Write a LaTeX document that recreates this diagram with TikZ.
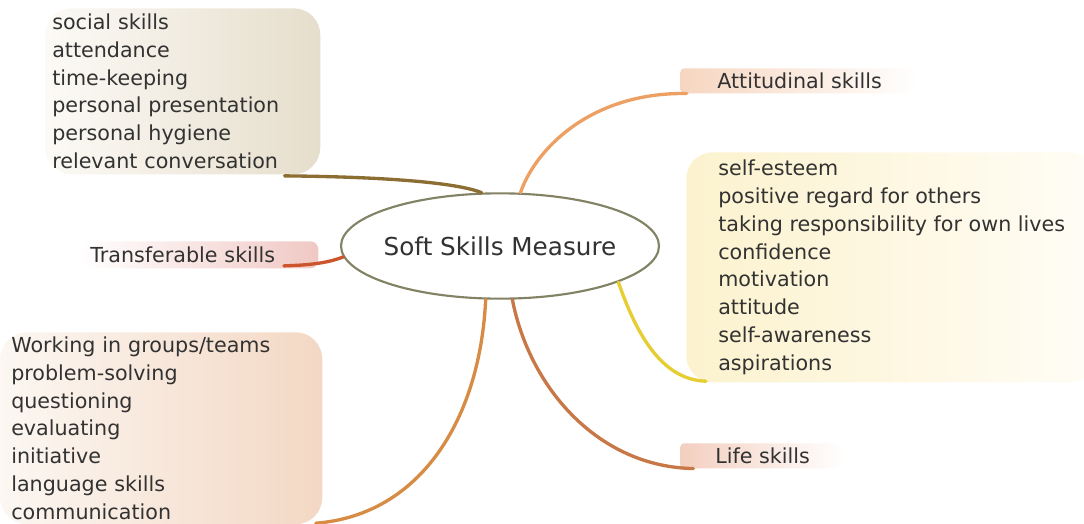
\documentclass[tikz,border=0pt]{standalone}
\usepackage{fontspec}
\setmainfont{DejaVu Sans}
\usetikzlibrary{shapes.geometric}
\definecolor{txt}{RGB}{50,50,50}
\definecolor{hubline}{RGB}{130,130,100}
\definecolor{socline}{RGB}{140,110,50}
\definecolor{transline}{RGB}{205,85,45}
\definecolor{attline}{RGB}{236,160,100}
\definecolor{selfline}{RGB}{230,205,50}
\definecolor{lifeline}{RGB}{200,120,70}
\definecolor{workline}{RGB}{215,140,70}
\tikzset{hubnode/.style={ellipse, draw=hubline, line width=1.6pt, fill=white, inner xsep=-4pt, inner ysep=0pt, minimum width=238.5pt, minimum height=79pt, text=txt, font=\fontsize{18.5}{22}\selectfont},
listbox/.style={anchor=north west, align=left, text=txt, font=\fontsize{15.5}{20.85}\selectfont, inner ysep=0pt},
branch/.style={line width=2.5pt, line cap=round},}

\begin{document}
\begin{tikzpicture}[x=0.75pt, y=-0.75pt]
\useasboundingbox (0,0) rectangle (1084,524);
\node [hubnode] (hub) at (500,246) {Soft Skills Measure};
\node [listbox, rounded corners=20pt, left color={rgb,255:red,252;green,250;blue,246}, right color={rgb,255:red,230;green,222;blue,204}, minimum height=124.5pt, text width=195.75pt, inner xsep=5.25pt] (soc) at (45,8) {social skills\\attendance\\time-keeping\\personal presentation\\personal hygiene\\relevant conversation};
\node [listbox, rounded corners=6pt, left color=white, right color={rgb,255:red,240;green,200;blue,196}, minimum height=20.25pt, text width=163.5pt, inner xsep=7.5pt] (trans) at (80,241) {Transferable skills};
\node [listbox, rounded corners=20pt, left color={rgb,255:red,252;green,247;blue,242}, right color={rgb,255:red,243;green,216;blue,196}, minimum height=144pt, text width=225pt, inner xsep=8.25pt] (work) at (0,332) {Working in groups/teams\\problem-solving\\questioning\\evaluating\\initiative\\language skills\\communication};
\node [listbox, rounded corners=3pt, left color={rgb,255:red,246;green,214;blue,192}, right color=white, minimum height=18.75pt, inner xsep=27.75pt] (att) at (680,68) {Attitudinal skills};
\node [listbox, rounded corners=20pt, left color={rgb,255:red,252;green,242;blue,206}, right color={rgb,255:red,255;green,253;blue,246}, minimum height=172.5pt, inner xsep=24pt] (self) at (686,152) {self-esteem\\positive regard for others\\taking responsibility for own lives\\confidence\\motivation\\attitude\\self-awareness\\aspirations};
\node [listbox, rounded corners=3pt, left color={rgb,255:red,243;green,207;blue,191}, right color=white, minimum height=18.75pt, inner xsep=26.25pt] (life) at (680,443) {Life skills};
\draw [branch, socline] ([xshift=-27pt, yshift=-1pt]soc.south east) .. controls (400,177) and (460,184) .. (hub.109);
\draw [branch, transline] ([xshift=-26pt, yshift=2pt]trans.south east) .. controls (315,265) and (330,262) .. (hub.184);
\draw [branch, attline] (hub.69) .. controls (535,150) and (590,92) .. ([xshift=5pt]att.south west);
\draw [branch, selfline] (hub.343) .. controls (635,330) and (660,380) .. ([xshift=15pt, yshift=1pt]self.south west);
\draw [branch, lifeline] (hub.283) .. controls (530,390) and (600,467) .. ([xshift=10pt]life.south west);
\draw [branch, workline] (hub.255) .. controls (480,420) and (420,515) .. ([xshift=-5pt, yshift=1pt]work.south east);
\end{tikzpicture}
\end{document}
